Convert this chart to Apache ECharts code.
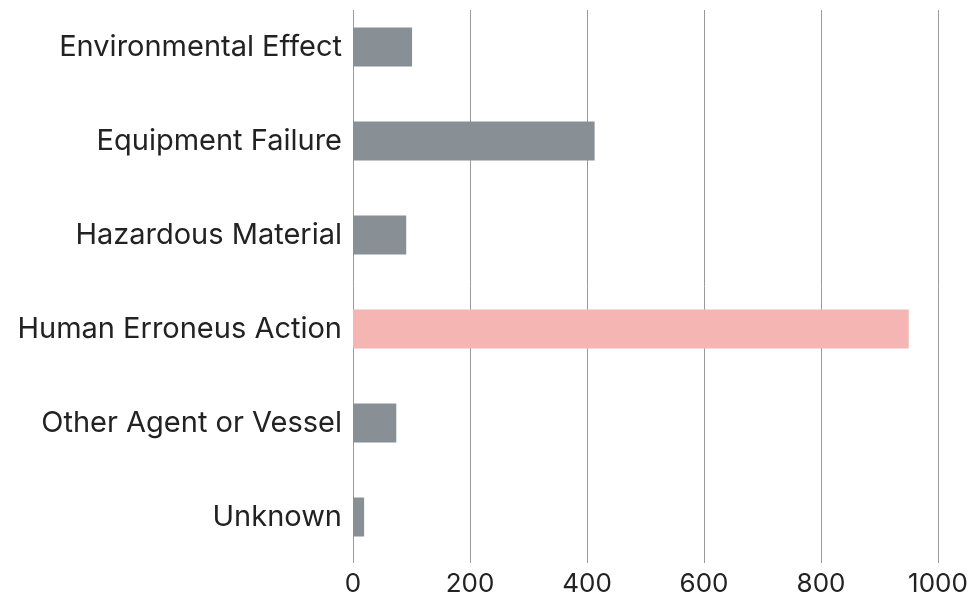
<!DOCTYPE html>
<html><head><meta charset="utf-8">
<script src="https://cdn.jsdelivr.net/npm/echarts@6/dist/echarts.min.js"></script>
<style>html,body{margin:0;padding:0;background:#fff}#c{width:972px;height:597px}</style>
</head><body><div id="c"></div>
<script>
const categories = ["Environmental Effect","Equipment Failure","Hazardous Material","Human Erroneus Action","Other Agent or Vessel","Unknown"];
const values = [101, 413, 91, 950, 74, 19];
const highlight = "Human Erroneus Action";
const xTicks = [0, 200, 400, 600, 800, 1000];

const FONT = "Inter";
const chart = echarts.init(document.getElementById('c'));
chart.setOption({
  animation: false,
  backgroundColor: '#ffffff',
  grid: [
    {left: 353, right: 34, top: -3, bottom: 33, containLabel: false},
    {left: 353, right: 34, top: 10, bottom: 34, containLabel: false}
  ],
  xAxis: [
    {gridIndex: 0, type: 'value', min: 0, max: 1000, interval: 200,
     axisLine: {show: false}, axisTick: {show: false}, axisLabel: {show: false}, splitLine: {show: false}},
    {gridIndex: 1, type: 'value', min: xTicks[0], max: xTicks[xTicks.length-1], interval: 200,
     axisLine: {show: false}, axisTick: {show: false},
     axisLabel: {color: '#222', fontSize: 26, fontFamily: FONT, margin: 8, formatter: v => String(v)},
     splitLine: {show: true, lineStyle: {color: '#9a9a9a', width: 1}}}
  ],
  yAxis: [
    {gridIndex: 0, type: 'category', data: categories, inverse: true,
     axisLine: {show: false}, axisTick: {show: false},
     axisLabel: {color: '#222', fontSize: 29, fontFamily: FONT, margin: 11}},
    {gridIndex: 1, type: 'value', show: false}
  ],
  series: [{
    type: 'bar', xAxisIndex: 0, yAxisIndex: 0,
    barWidth: 39,
    data: categories.map((c, i) => ({value: values[i], itemStyle: {color: c === highlight ? '#f4b5b3' : '#889096'}}))
  }]
});
</script></body></html>
